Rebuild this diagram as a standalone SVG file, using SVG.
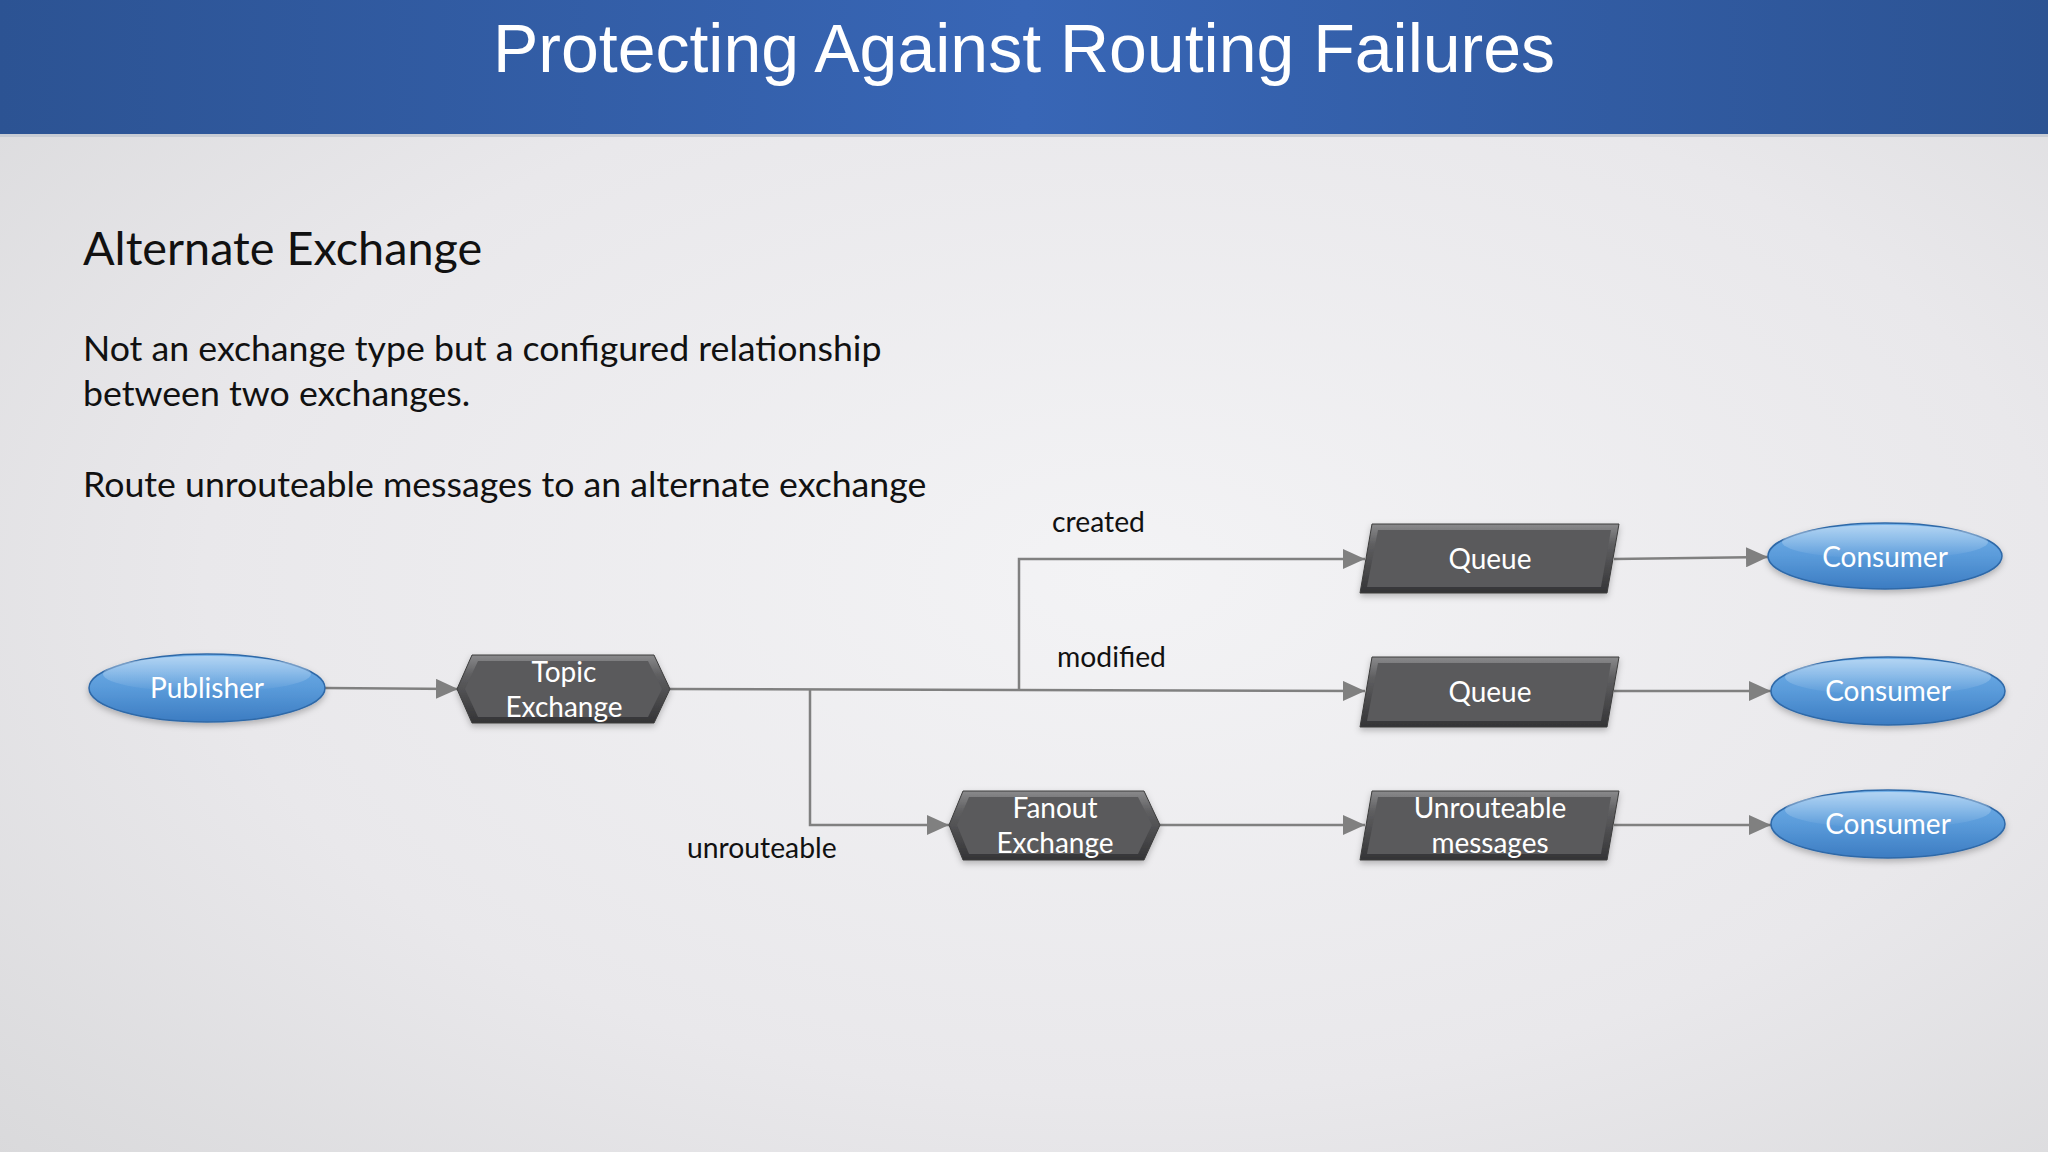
<svg xmlns="http://www.w3.org/2000/svg" width="2048" height="1152" viewBox="0 0 2048 1152">
<defs>
<style>
.txt{font-family:Lato,"Open Sans",sans-serif;fill:#111111}
.lbl{font-family:Lato,"Open Sans",sans-serif;font-size:28px;fill:#ffffff;text-anchor:middle}
.edge{font-family:Lato,"Open Sans",sans-serif;font-size:28.3px;fill:#111111}
.conn{fill:none;stroke:#808080;stroke-width:2.5;marker-end:url(#arr)}
.ell{fill:url(#blue);stroke:#2f69a8;stroke-width:1.5;filter:url(#sh)}
.hl{fill:url(#gloss)}
.dk{fill:url(#dark);stroke:#3c3c3c;stroke-width:1;filter:url(#sh)}
.dki{fill:#5a5a5c}
</style>
<linearGradient id="bar" x1="0" y1="0" x2="1" y2="0">
<stop offset="0" stop-color="#2c5393"/>
<stop offset="0.5" stop-color="#3866b6"/>
<stop offset="1" stop-color="#2c5393"/>
</linearGradient>
<radialGradient id="bg" cx="0.55" cy="0.5" r="0.75">
<stop offset="0" stop-color="#f3f3f5"/>
<stop offset="0.6" stop-color="#e9e8eb"/>
<stop offset="1" stop-color="#d9d9db"/>
</radialGradient>
<linearGradient id="blue" x1="0" y1="0" x2="0" y2="1">
<stop offset="0" stop-color="#74b2ea"/>
<stop offset="0.5" stop-color="#5a9bda"/>
<stop offset="1" stop-color="#3c7cc2"/>
</linearGradient>
<linearGradient id="gloss" x1="0" y1="0" x2="0" y2="1">
<stop offset="0" stop-color="#ffffff" stop-opacity="0.45"/>
<stop offset="1" stop-color="#ffffff" stop-opacity="0"/>
</linearGradient>
<linearGradient id="dark" x1="0" y1="0" x2="0" y2="1">
<stop offset="0" stop-color="#8a8a8c"/>
<stop offset="0.3" stop-color="#5e5e60"/>
<stop offset="1" stop-color="#343436"/>
</linearGradient>
<filter id="sh" x="-10%" y="-20%" width="120%" height="150%">
<feDropShadow dx="0" dy="3" stdDeviation="3" flood-color="#000000" flood-opacity="0.25"/>
</filter>
<marker id="arr" viewBox="0 0 22 20" markerWidth="22" markerHeight="20" refX="22" refY="10" orient="auto" markerUnits="userSpaceOnUse">
<path d="M0,0 L22,10 L0,20 z" fill="#808080"/>
</marker>
</defs>

<rect x="0" y="0" width="2048" height="1152" fill="url(#bg)"/>
<rect x="0" y="0" width="2048" height="134" fill="url(#bar)"/>
<rect x="0" y="134" width="2048" height="3" fill="#c8ccd4"/>
<text x="1024" y="72" font-family="'Liberation Sans',Arial,sans-serif" font-size="68" fill="#ffffff" text-anchor="middle">Protecting Against Routing Failures</text>

<text class="txt" x="83" y="265" font-size="46.8">Alternate Exchange</text>
<text class="txt" x="83" y="361" font-size="35.7">Not an exchange type but a configured relationship</text>
<text class="txt" x="83" y="406" font-size="35.7">between two exchanges.</text>
<text class="txt" x="83" y="497" font-size="35.7">Route unrouteable messages to an alternate exchange</text>

<g id="connectors">
<path class="conn" d="M325,688 L458,689"/>
<path class="conn" d="M670,689 L1365,691"/>
<path class="conn" d="M1019,689 V559 H1365"/>
<path class="conn" d="M810,689 V825 H949"/>
<path class="conn" d="M1160,825 H1365"/>
<path class="conn" d="M1614,559 L1768,557"/>
<path class="conn" d="M1614,691 L1771,691"/>
<path class="conn" d="M1614,825 L1771,825"/>
<text class="edge" x="1052" y="532">created</text>
<text class="edge" x="1057" y="667">modified</text>
<text class="edge" x="687" y="858">unrouteable</text>
</g>

<g id="publisher">
<ellipse class="ell" cx="207" cy="688" rx="118" ry="34"/>
<ellipse class="hl" cx="207" cy="674" rx="104" ry="18"/>
<text class="lbl" x="207" y="698">Publisher</text>
</g>

<g id="topic-exchange">
<polygon class="dk" points="457,689 472,655 654,655 670,689 654,723 472,723"/>
<polygon class="dki" points="465,689 478,661 648,661 662,689 648,717 478,717"/>
<text class="lbl" x="564" y="682">Topic</text>
<text class="lbl" x="564" y="717">Exchange</text>
</g>

<g id="fanout-exchange">
<polygon class="dk" points="949,825 963,791 1144,791 1160,825 1144,860 963,860"/>
<polygon class="dki" points="957,825 969,797 1138,797 1152,825 1138,854 969,854"/>
<text class="lbl" x="1055" y="818">Fanout</text>
<text class="lbl" x="1055" y="853">Exchange</text>
</g>

<g id="queue-1">
<polygon class="dk" points="1372,524 1619,524 1607,593 1360,593"/>
<polygon class="dki" points="1378,530 1611,530 1601,587 1367,587"/>
<text class="lbl" x="1490" y="569">Queue</text>
</g>

<g id="queue-2">
<polygon class="dk" points="1372,657 1619,657 1607,727 1360,727"/>
<polygon class="dki" points="1378,663 1611,663 1601,721 1367,721"/>
<text class="lbl" x="1490" y="702">Queue</text>
</g>

<g id="unrouteable-messages">
<polygon class="dk" points="1372,791 1619,791 1607,860 1360,860"/>
<polygon class="dki" points="1378,797 1611,797 1601,854 1367,854"/>
<text class="lbl" x="1490" y="818">Unrouteable</text>
<text class="lbl" x="1490" y="853">messages</text>
</g>

<g id="consumer-1">
<ellipse class="ell" cx="1885" cy="556" rx="117" ry="33"/>
<ellipse class="hl" cx="1885" cy="542" rx="103" ry="17"/>
<text class="lbl" x="1885" y="567">Consumer</text>
</g>

<g id="consumer-2">
<ellipse class="ell" cx="1888" cy="691" rx="117" ry="34"/>
<ellipse class="hl" cx="1888" cy="677" rx="103" ry="18"/>
<text class="lbl" x="1888" y="701">Consumer</text>
</g>

<g id="consumer-3">
<ellipse class="ell" cx="1888" cy="824" rx="117" ry="34"/>
<ellipse class="hl" cx="1888" cy="810" rx="103" ry="18"/>
<text class="lbl" x="1888" y="834">Consumer</text>
</g>
</svg>
